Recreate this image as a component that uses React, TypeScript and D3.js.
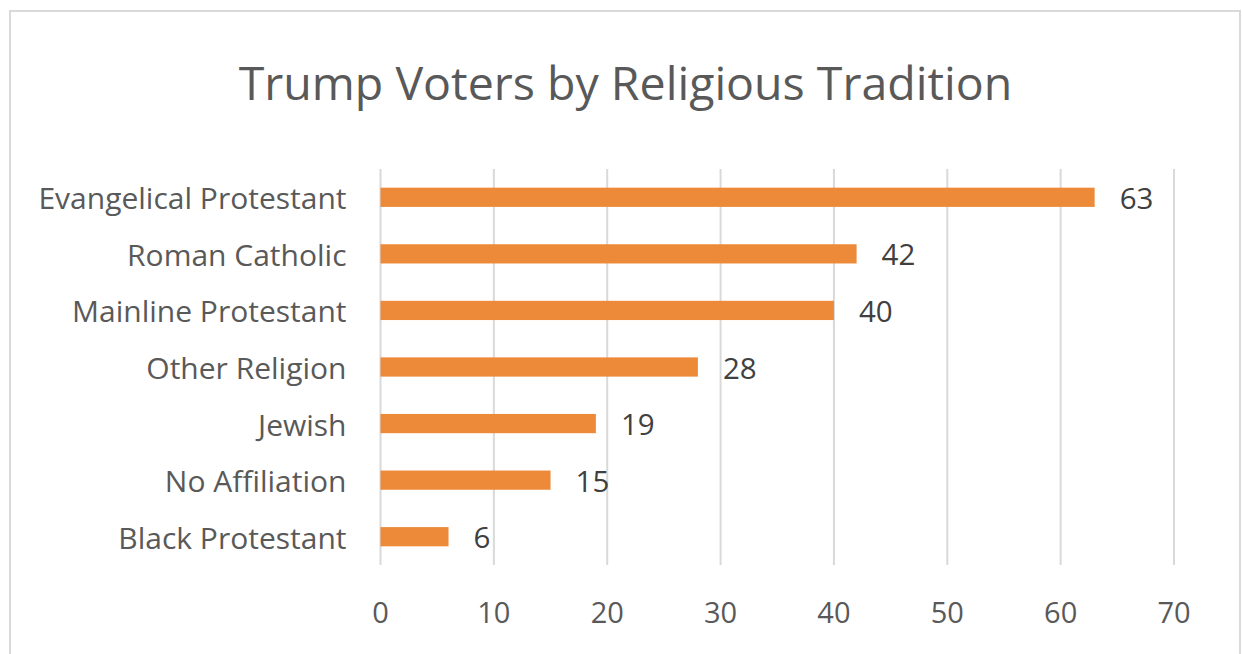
import React from "react";
import * as d3 from "d3";

const categories = [
  "Evangelical Protestant",
  "Roman Catholic",
  "Mainline Protestant",
  "Other Religion",
  "Jewish",
  "No Affiliation",
  "Black Protestant",
];
const values = [63, 42, 40, 28, 19, 15, 6];
const xTicks = [0, 10, 20, 30, 40, 50, 60, 70];
const title = "Trump Voters by Religious Tradition";

const W = 1242;
const H = 654;
const FONT = "'Open Sans', sans-serif";

export default function App() {
  const x = d3.scaleLinear().domain([0, 70]).range([380.5, 1174]);
  const y = d3.scaleBand().domain(categories).range([169, 565]).paddingInner(0.66).paddingOuter(0.33);
  const grid = "#d9d9d9";
  const textCol = "#595959";
  return (
    <svg width={W} height={H} style={{ position: "absolute", left: 0, top: 0 }} fontFamily={FONT}>
      <rect x={0} y={0} width={W} height={H} fill="#fff" />
      <rect x={10} y={11} width={1230} height={660} fill="#fff" stroke={grid} strokeWidth={2} />
      <text x={625.5} y={99.5} textAnchor="middle" fontSize={46.5} fill={textCol}>
        {title}
      </text>
      {xTicks.map((t) => (
        <g key={t}>
          <line x1={x(t)} x2={x(t)} y1={169} y2={565} stroke={grid} strokeWidth={2} />
          <text x={x(t)} y={622.5} textAnchor="middle" fontSize={29} fill={textCol}>
            {t}
          </text>
        </g>
      ))}
      {categories.map((c, i) => {
        const yy = y(c)!;
        const cy = yy + y.bandwidth() / 2;
        return (
          <g key={c}>
            <rect x={x(0)} y={yy} width={x(values[i]) - x(0)} height={y.bandwidth()} fill="#ED8A3A" />
            <text x={346.5} y={cy + 12} textAnchor="end" fontSize={30} fill={textCol}>
              {c}
            </text>
            <text x={x(values[i]) + 25} y={cy + 11.5} textAnchor="start" fontSize={29.5} fill="#404040">
              {values[i]}
            </text>
          </g>
        );
      })}
    </svg>
  );
}
